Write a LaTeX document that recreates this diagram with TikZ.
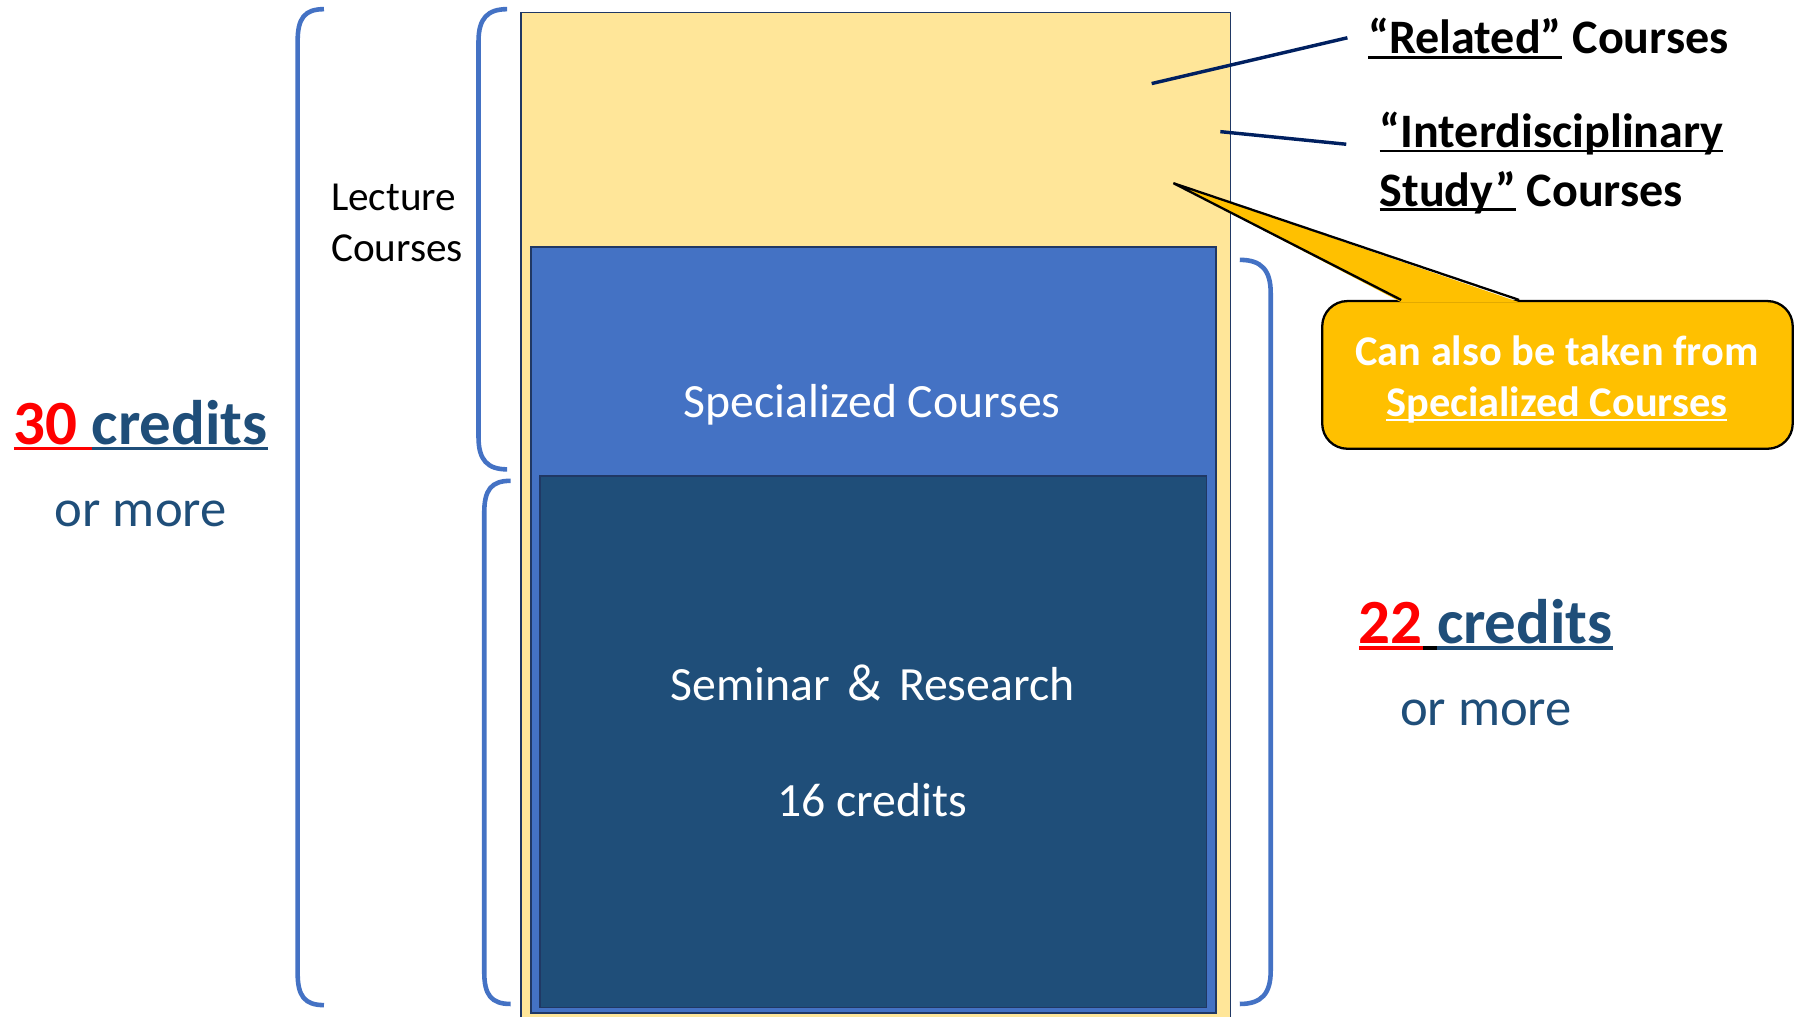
\documentclass[tikz,border=0pt]{standalone}
\usepackage{fontspec}
\setmainfont{Carlito}
\newfontfamily\cjkfont{Noto Sans CJK JP}
\usetikzlibrary{calc}
\definecolor{yel}{HTML}{FFE699}
\definecolor{blu}{HTML}{4472C4}
\definecolor{dkb}{HTML}{1F4E79}
\definecolor{edgec}{HTML}{203864}
\definecolor{navy}{HTML}{002060}
\definecolor{gold}{HTML}{FFC000}
\newcommand\myul[1]{\setbox0\hbox{#1}\rlap{\rule[-0.1em]{\wd0}{0.055em}}\box0\relax}
\begin{document}
\begin{tikzpicture}[x=1pt,y=-1pt,
  brk/.style={draw=blu,line width=4pt},
  boxr/.style={draw=edgec,line width=1.5pt,inner sep=0,outer sep=0,anchor=north west},
  txt/.style={inner sep=0,anchor=base},
  lead/.style={draw=navy,line width=3pt},
  big/.style={font=\fontsize{55}{60}\selectfont\bfseries},
  more/.style={font=\fontsize{46}{52}\selectfont,text=dkb},
  boxtxt/.style={font=\fontsize{41.7}{48}\selectfont,text=white},
  lab/.style={font=\fontsize{42}{51}\selectfont\bfseries,align=left,inner sep=0,anchor=base west}
]
\useasboundingbox (0,0) rectangle (1568,888);
\clip (0,0) rectangle (1568,888);

% stacked boxes
\node[boxr,fill=yel,line width=1.2pt,minimum width=620pt,minimum height=890pt] (yellow) at (455,11) {};
\node[boxr,fill=blu,minimum width=598pt,minimum height=669pt] (spec) at (464,216) {};
\node[boxr,fill=dkb,minimum width=582pt,minimum height=464pt] (sem) at (472,416) {};

\node[txt,boxtxt] (spectxt) at (762,365) {Specialized Courses};
\node[txt,boxtxt] (semtxt) at (762,612) {Seminar {\cjkfont ＆} Research};
\node[txt,boxtxt] (credtxt) at (762,713) {16 credits};

% brackets
\draw[brk] (283,8) .. controls (266,8) and (260,16) .. (260,36) -- (260,850) .. controls (260,870) and (266,878) .. (283,878);
\draw[brk] (443,8) .. controls (426,8) and (418,16) .. (418,36) -- (418,382) .. controls (418,402) and (426,410) .. (443,410);
\draw[brk] (446,420) .. controls (429,420) and (423,428) .. (423,448) -- (423,849) .. controls (423,869) and (429,877) .. (446,877);
\draw[brk] (1083,227) .. controls (1102,227) and (1110,236) .. (1110,256) -- (1110,848) .. controls (1110,868) and (1102,877) .. (1083,877);

% left texts
\node[inner sep=0,anchor=base west,align=left,font=\fontsize{36}{44}\selectfont] (lect) at (289,228) {Lecture\\Courses};
\node[txt,big] (c30) at (123,388) {{\color{red}\myul{30\ }}{\color{dkb}\myul{credits}}};
\node[txt,more] (m30) at (123,460) {or more};

% right texts
\node[txt,big] (c22) at (1298,562) {{\color{red}\myul{22}}\myul{\ }{\color{dkb}\myul{credits}}};
\node[txt,more] (m22) at (1298,634) {or more};

% labels with leader lines
\node[lab] (rel) at (1195,47) {\myul{“Related”} Courses};
\node[lab] (inter) at (1205,180) {\myul{“Interdisciplinary}\\\myul{Study”} Courses};
\coordinate (relpt) at (1006,73);
\coordinate (interpt) at (1066,115);
\draw[lead] (relpt) -- ([xshift=-18pt,yshift=14pt]rel.base west);
\draw[lead] (interpt) -- ([xshift=-29pt,yshift=54pt]inter.base west);

% callout
\node[draw=black,line width=2pt,fill=gold,rounded corners=22pt,minimum width=411pt,minimum height=129pt,inner sep=0] (call) at (1360.5,327.5) {};
\coordinate (tip) at (1025,160);
\fill[gold] ([xshift=-136.5pt,yshift=-2pt]call.north) -- (tip) -- ([xshift=-33.5pt,yshift=-2pt]call.north) -- cycle;
\draw[black,line width=2pt,line join=miter] ([xshift=-136.5pt]call.north) -- (tip) -- ([xshift=-33.5pt]call.north);
\node[txt,font=\fontsize{37}{45}\selectfont\bfseries,text=white,align=center] (calltxt) at (1360,364) {Can also be taken from\\\myul{Specialized Courses}};
\end{tikzpicture}
\end{document}
